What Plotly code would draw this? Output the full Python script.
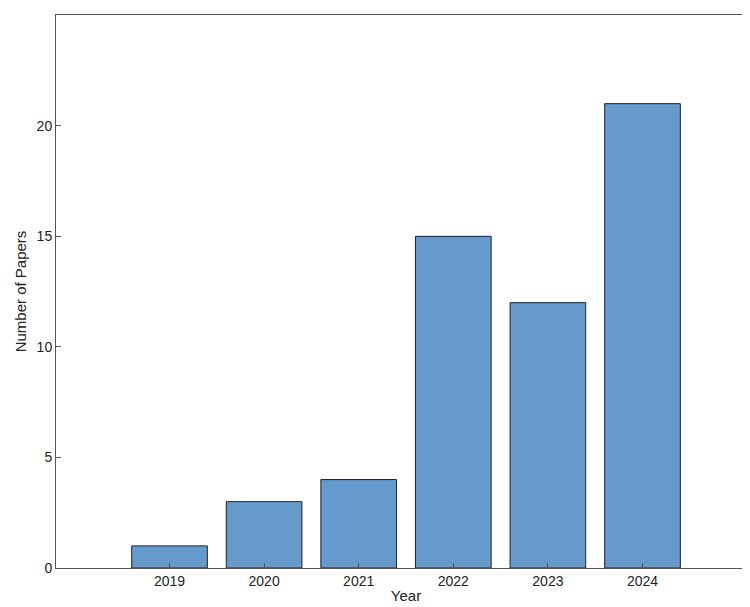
import plotly.graph_objects as go

years = [2019, 2020, 2021, 2022, 2023, 2024]
papers = [1, 3, 4, 15, 12, 21]
y_ticks = [0, 5, 10, 15, 20, 25]

fig = go.Figure(go.Bar(
    x=years, y=papers, width=0.8,
    marker=dict(color="#6699cc", line=dict(color="#222222", width=1)),
))

axis_style = dict(showline=True, linecolor="#555555", linewidth=1, mirror=True,
                  ticks="inside", ticklen=5, tickcolor="#555555",
                  showgrid=False, zeroline=False, automargin=False,
                  tickfont=dict(family="Liberation Sans", size=14, color="#222222"))

fig.update_xaxes(range=[2017.8, 2025.2], tickvals=years, title_text="Year",
                 title_standoff=2, title_font_size=15, **axis_style)
fig.update_yaxes(range=[0, 25.01], tickvals=y_ticks, title_text="Number of Papers",
                 title_standoff=6, title_font_size=15, **axis_style)
fig.update_layout(
    width=750, height=607, plot_bgcolor="white", paper_bgcolor="white",
    margin=dict(l=48, r=2, t=7, b=47),
    font=dict(family="Liberation Sans", size=15, color="#222222"),
    showlegend=False,
)
fig.write_html("out.html")
